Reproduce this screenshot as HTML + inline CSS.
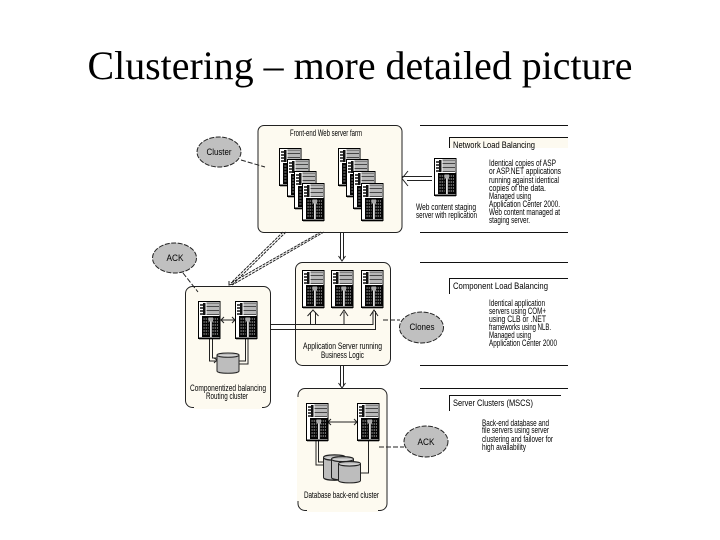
<!DOCTYPE html>
<html><head><meta charset="utf-8"><style>
html,body{margin:0;padding:0;background:#fff}
svg{display:block}
text{font-family:"Liberation Sans",sans-serif;fill:#000}
.t{font-size:9px}
</style></head><body>
<svg width="720" height="540" viewBox="0 0 720 540" xmlns="http://www.w3.org/2000/svg">
<defs>
<g id="s">
<rect x=".5" y=".5" width="21.5" height="37" fill="#fff" stroke="#000" stroke-width="1"/>
<rect x="1" y="36.500" width="21" height="1.800" fill="#000"/>
<path d="M2 4h3M2 7h3M2 10h3M2 13h3" stroke="#111" stroke-width="1.500"/>
<rect x="5" y="2" width="2.500" height="12" fill="#111"/>
<rect x="8.500" y="2" width="12.500" height="11.500" fill="#b8b8b8"/>
<path d="M8.500 2h12.500M8.500 5.500h12.500M8.500 9.500h12.500M8.500 13.500h12.500" stroke="#222" stroke-width=".8"/>
<rect x="4" y="15" width="17.500" height="21" fill="#050505"/>
<path d="M5.500 18h5M5.500 21h5M5.500 24h5M5.500 27h5M5.500 30h5M5.500 33h5M14.500 18h5.500M14.500 21h5.500M14.500 24h5.500M14.500 27h5.500M14.500 30h5.500M14.500 33h5.500" stroke="#ccc" stroke-width="1.100" stroke-dasharray="1.200 1"/>
<rect x="12" y="19" width="1.800" height="17" fill="#ddd"/>
<rect x="10.500" y="16.500" width="4.500" height="4" fill="#aaa"/>
</g>
<g id="db">
<path d="M.5 3.500C.5 .8 22.500 .8 22.500 3.500V19.500C22.500 22.500 .5 22.500 .5 19.500Z" fill="#bdbdbd" stroke="#222"/>
<path d="M.5 3.500C.5 6.500 22.500 6.500 22.500 3.500" fill="#d4d4d4" stroke="#222"/>
</g>
<g id="a"><path d="M-3.500 -5L0 0L3.500 -5" fill="none" stroke="#222" stroke-width="1"/></g>
</defs>

<rect width="720" height="540" fill="#fff"/>
<text x="360" y="79" text-anchor="middle" textLength="545" lengthAdjust="spacingAndGlyphs" style="font-family:'Liberation Serif',serif;font-size:40px;fill:#000">Clustering – more detailed picture</text>

<g style="filter:blur(.3px)">
<!-- right panels -->
<g stroke="#111" stroke-width="1" fill="none">
<path d="M420 125.500H568M420 232.500H568M420 262.500H568M420 365.500H568M420 388.500H568"/>
<path d="M449.500 148V137.500H568M449.500 294V278.500H568M449.500 411V395.500H561"/>
</g>
<rect x="450" y="138" width="118" height="10" fill="#fdfaf0"/>
<text class="t" x="453" y="148" textLength="82" lengthAdjust="spacingAndGlyphs">Network Load Balancing</text>
<text class="t" x="453" y="289" textLength="95" lengthAdjust="spacingAndGlyphs">Component Load Balancing</text>
<text class="t" x="453" y="406" textLength="80" lengthAdjust="spacingAndGlyphs">Server Clusters (MSCS)</text>

<g class="t">
<text x="489" y="166" textLength="67" lengthAdjust="spacingAndGlyphs">Identical copies of ASP</text>
<text x="489" y="174" textLength="72" lengthAdjust="spacingAndGlyphs">or ASP.NET applications</text>
<text x="489" y="183" textLength="70" lengthAdjust="spacingAndGlyphs">running against identical</text>
<text x="489" y="191" textLength="57" lengthAdjust="spacingAndGlyphs">copies of the data.</text>
<text x="489" y="199" textLength="42" lengthAdjust="spacingAndGlyphs">Managed using</text>
<text x="489" y="207" textLength="71" lengthAdjust="spacingAndGlyphs">Application Center 2000.</text>
<text x="489" y="215" textLength="71" lengthAdjust="spacingAndGlyphs">Web content managed at</text>
<text x="489" y="223" textLength="41" lengthAdjust="spacingAndGlyphs">staging server.</text>

<text x="489" y="306" textLength="56" lengthAdjust="spacingAndGlyphs">Identical application</text>
<text x="489" y="314" textLength="57" lengthAdjust="spacingAndGlyphs">servers using COM+</text>
<text x="489" y="322" textLength="57" lengthAdjust="spacingAndGlyphs">using CLB or .NET</text>
<text x="489" y="330" textLength="62" lengthAdjust="spacingAndGlyphs">frameworks using NLB.</text>
<text x="489" y="338" textLength="42" lengthAdjust="spacingAndGlyphs">Managed using</text>
<text x="489" y="346" textLength="68" lengthAdjust="spacingAndGlyphs">Application Center 2000</text>

<text x="482" y="426" textLength="67" lengthAdjust="spacingAndGlyphs">Back-end database and</text>
<text x="482" y="433" textLength="67" lengthAdjust="spacingAndGlyphs">file servers using server</text>
<text x="482" y="442" textLength="71" lengthAdjust="spacingAndGlyphs">clustering and failover for</text>
<text x="482" y="450" textLength="44" lengthAdjust="spacingAndGlyphs">high availability</text>
</g>

<!-- boxes -->
<g fill="#fdfaf0" stroke="#222" stroke-width="1">
<rect x="258" y="125.500" width="144" height="107" rx="6"/>
<rect x="185.500" y="286.500" width="85" height="121" rx="7"/>
<rect x="295.500" y="262.500" width="95" height="103" rx="7"/>
<rect x="298" y="388.500" width="89" height="122" rx="7"/>
</g>
<!-- open edges: these box sides fade out in the source image -->
<rect x="194" y="406" width="68" height="3" fill="#fdfaf0"/>
<rect x="297" y="397" width="2.500" height="104" fill="#fdfaf0"/>
<rect x="307" y="509" width="71" height="3" fill="#fdfaf0"/>

<!-- connectors -->
<g fill="none" stroke="#222" stroke-width="1">
<path d="M283 232L231 283M286 232L232 285" stroke-dasharray="3 1"/>
<path d="M321 232L231 283M324 232L232 285" stroke-dasharray="3 1"/>
<path d="M229 281L229 285L233 284"/>
<path d="M340.500 233V259M343.500 233V259"/>
<path d="M340.500 366V386M343.500 366V386"/>
<path d="M402 176.500H432M407 180.500H432M408 171L402 178.500L408 186"/>
<path d="M270 324.500H373V311M270 329.500H375.500V311"/>
<path d="M310.500 324V312M315.500 324V312M344 324V312"/>
<path d="M221 320H235"/>
<path d="M209.500 339V361H217M212.500 339V358H217M245.500 339V361H239M248 339V364H239"/>
<path d="M328 422H357"/>
<path d="M316 441V465H323M318.500 441V462H323M368.500 441V473H361"/>
<path stroke-dasharray="5 2" d="M241 160L265 167M183 273L198 292M383 320H400M379 447H404"/>
</g>
<use href="#a" x="342" y="261"/><use href="#a" x="342" y="388"/>
<g fill="none" stroke="#222"><path d="M307.500 316L313 310L318.500 316M340 316L344 310L348 316M370 316L374 310L378 316"/>
<path d="M224 317L221 320L224 323M232 317L235 320L232 323M331 419L328 422L331 425M354 419L357 422L354 425M214 358L217 360L214 363"/></g>

<!-- ellipses -->
<g fill="#c0c0c0" stroke="#222" stroke-width="1" stroke-dasharray="5 1.500">
<ellipse cx="219" cy="152" rx="22" ry="15"/>
<ellipse cx="174.500" cy="258" rx="22" ry="15"/>
<ellipse cx="421.500" cy="327.500" rx="22" ry="15.500"/>
<ellipse cx="426" cy="441.500" rx="22" ry="15.500"/>
</g>
<g class="t" text-anchor="middle">
<text x="219" y="155" textLength="25" lengthAdjust="spacingAndGlyphs">Cluster</text>
<text x="175" y="261" textLength="17" lengthAdjust="spacingAndGlyphs">ACK</text>
<text x="422" y="330" textLength="25" lengthAdjust="spacingAndGlyphs">Clones</text>
<text x="426" y="445" textLength="17" lengthAdjust="spacingAndGlyphs">ACK</text>
</g>

<!-- servers -->
<use href="#s" x="279" y="148"/><use href="#s" x="287" y="159"/><use href="#s" x="294" y="171"/><use href="#s" x="302" y="183"/>
<use href="#s" x="338" y="148"/><use href="#s" x="346" y="159"/><use href="#s" x="353" y="171"/><use href="#s" x="361" y="183"/>
<use href="#s" x="434" y="158"/>
<use href="#s" x="302" y="270"/><use href="#s" x="331" y="270"/><use href="#s" x="361" y="270"/>
<use href="#s" x="198" y="301"/><use href="#s" x="235" y="301"/>
<use href="#s" x="306" y="403"/><use href="#s" x="357" y="403"/>
<use href="#db" x="216.500" y="351.500"/>
<use href="#db" transform="translate(323 453) scale(1 1.250)"/>
<use href="#db" transform="translate(331 455) scale(1 1.150)"/>
<use href="#db" transform="translate(338 460) scale(1 1.050)"/>

<!-- box labels -->
<g class="t">
<text x="290" y="136" textLength="72" lengthAdjust="spacingAndGlyphs">Front-end Web server farm</text>
<text x="416" y="210" textLength="60" lengthAdjust="spacingAndGlyphs">Web content staging</text>
<text x="416" y="218" textLength="61" lengthAdjust="spacingAndGlyphs">server with replication</text>
<text x="303" y="349" textLength="79" lengthAdjust="spacingAndGlyphs">Application Server running</text>
<text x="321" y="358" textLength="43" lengthAdjust="spacingAndGlyphs">Business Logic</text>
<text x="190" y="391" textLength="76" lengthAdjust="spacingAndGlyphs">Componentized balancing</text>
<text x="206" y="399" textLength="42" lengthAdjust="spacingAndGlyphs">Routing cluster</text>
<text x="304" y="498" textLength="75" lengthAdjust="spacingAndGlyphs">Database back-end cluster</text>
</g>
</g>
</svg>
</body></html>
